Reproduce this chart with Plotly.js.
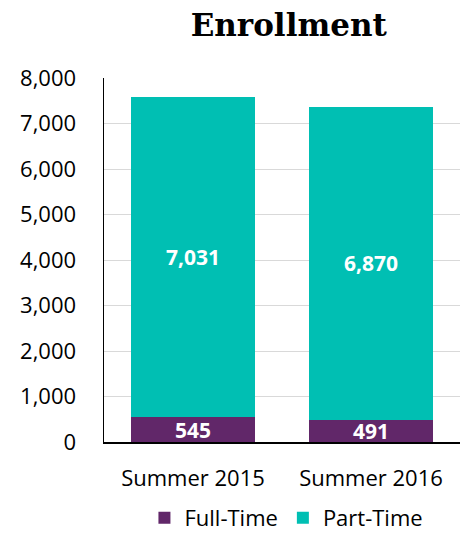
<!DOCTYPE html>
<html>
<head>
<meta charset="utf-8">
<script src="https://cdn.plot.ly/plotly-3.0.1.min.js"></script>
<style>html,body{margin:0;padding:0;background:#fff;}#chart{width:462px;height:539px;}</style>
</head>
<body>
<div id="chart"></div>
<script>
const categories = ["Summer 2015", "Summer 2016"];
const fullTime = [545, 491];
const partTime = [7031, 6870];
const yTickVals = [0, 1000, 2000, 3000, 4000, 5000, 6000, 7000, 8000];
const yTickText = ["0", "1,000", "2,000", "3,000", "4,000", "5,000", "6,000", "7,000", "8,000"];

const font = "Open Sans, Noto Sans, sans-serif";
const fmt = v => v.toLocaleString("en-US");

const traces = [
  {
    type: "bar", name: "Full-Time", x: categories, y: fullTime,
    marker: {color: "#612769"},
    text: fullTime.map(fmt), textposition: "inside", insidetextanchor: "middle",
    textangle: 0, constraintext: "none",
    textfont: {family: font, size: 21, color: "#ffffff", weight: "bold"},
    hoverinfo: "skip"
  },
  {
    type: "bar", name: "Part-Time", x: categories, y: partTime,
    marker: {color: "#00BFB3"},
    text: partTime.map(fmt), textposition: "inside", insidetextanchor: "middle",
    textangle: 0, constraintext: "none",
    textfont: {family: font, size: 21, color: "#ffffff", weight: "bold"},
    hoverinfo: "skip"
  }
];

const layout = {
  width: 462, height: 539,
  margin: {l: 104, r: 2, t: 78, b: 97, autoexpand: false},
  barmode: "stack", bargap: 0.3,
  paper_bgcolor: "#ffffff", plot_bgcolor: "#ffffff",
  font: {family: font, size: 22, color: "#000000"},
  title: {
    text: "<b>Enrollment</b>",
    font: {family: "DejaVu Serif, serif", size: 31, color: "#000000"},
    x: 0.625, xanchor: "center", y: 0.953, yanchor: "middle"
  },
  xaxis: {
    type: "category", showline: true, linecolor: "#000000", linewidth: 1.5,
    ticks: "", ticklabelstandoff: 16, automargin: false,
    tickfont: {family: font, size: 22, color: "#000000"}, fixedrange: true
  },
  yaxis: {
    range: [0, 8000], tickvals: yTickVals, ticktext: yTickText,
    showline: true, linecolor: "#000000", linewidth: 1.5,
    showgrid: true, gridcolor: "#d9d9d9", gridwidth: 1, zeroline: false,
    ticks: "", ticklabelstandoff: 22, automargin: false,
    tickfont: {family: font, size: 22, color: "#000000"}, fixedrange: true
  },
  showlegend: true,
  legend: {
    orientation: "h", xref: "container", yref: "container",
    x: 0.62, xanchor: "center", y: -0.012, yanchor: "bottom",
    font: {family: font, size: 22, color: "#000000"}, traceorder: "normal"
  }
};

Plotly.newPlot("chart", traces, layout, {displayModeBar: false, staticPlot: true});
</script>
</body>
</html>
